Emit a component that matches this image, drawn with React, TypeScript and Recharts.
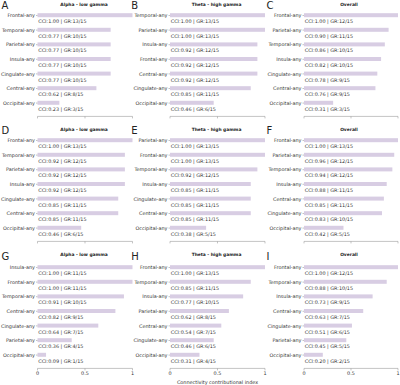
import React from 'react';
import { BarChart, Bar, XAxis, YAxis } from 'recharts';

const FONT = '"DejaVu Sans", sans-serif';
const BAR_FILL = '#d8cde3';
const INK = '#333333';
const AXIS = '#9a9a9a';
const GR_TOTAL = 15;

// A — Alpha - low gamma
const aRegions = ['Frontal-any', 'Temporal-any', 'Parietal-any', 'Insula-any', 'Cingulate-any', 'Central-any', 'Occipital-any'];
const aCci = [1.0, 0.77, 0.77, 0.77, 0.77, 0.62, 0.23];
const aGr = [13, 10, 10, 10, 10, 8, 3];

// B — Theta - high gamma
const bRegions = ['Temporal-any', 'Parietal-any', 'Insula-any', 'Frontal-any', 'Central-any', 'Cingulate-any', 'Occipital-any'];
const bCci = [1.0, 1.0, 0.92, 0.92, 0.92, 0.85, 0.46];
const bGr = [13, 13, 12, 12, 12, 11, 6];

// C — Overall
const cRegions = ['Frontal-any', 'Parietal-any', 'Temporal-any', 'Insula-any', 'Cingulate-any', 'Central-any', 'Occipital-any'];
const cCci = [1.0, 0.9, 0.86, 0.82, 0.78, 0.76, 0.31];
const cGr = [12, 11, 10, 10, 9, 9, 3];

// D — Alpha - low gamma
const dRegions = ['Frontal-any', 'Temporal-any', 'Parietal-any', 'Insula-any', 'Cingulate-any', 'Central-any', 'Occipital-any'];
const dCci = [1.0, 0.92, 0.92, 0.92, 0.85, 0.85, 0.46];
const dGr = [13, 12, 12, 12, 11, 11, 6];

// E — Theta - high gamma
const eRegions = ['Parietal-any', 'Frontal-any', 'Temporal-any', 'Insula-any', 'Cingulate-any', 'Central-any', 'Occipital-any'];
const eCci = [1.0, 1.0, 0.92, 0.85, 0.85, 0.85, 0.38];
const eGr = [13, 13, 12, 11, 11, 11, 5];

// F — Overall
const fRegions = ['Frontal-any', 'Parietal-any', 'Temporal-any', 'Insula-any', 'Central-any', 'Cingulate-any', 'Occipital-any'];
const fCci = [1.0, 0.96, 0.94, 0.88, 0.85, 0.83, 0.42];
const fGr = [13, 12, 12, 11, 11, 10, 5];

// G — Alpha - low gamma
const gRegions = ['Insula-any', 'Frontal-any', 'Temporal-any', 'Central-any', 'Cingulate-any', 'Parietal-any', 'Occipital-any'];
const gCci = [1.0, 1.0, 0.91, 0.82, 0.64, 0.36, 0.09];
const gGr = [11, 11, 10, 9, 7, 4, 1];

// H — Theta - high gamma
const hRegions = ['Frontal-any', 'Temporal-any', 'Insula-any', 'Parietal-any', 'Central-any', 'Cingulate-any', 'Occipital-any'];
const hCci = [1.0, 0.85, 0.77, 0.62, 0.54, 0.46, 0.31];
const hGr = [13, 11, 10, 8, 7, 6, 4];

// I — Overall
const iRegions = ['Frontal-any', 'Temporal-any', 'Insula-any', 'Central-any', 'Cingulate-any', 'Parietal-any', 'Occipital-any'];
const iCci = [1.0, 0.88, 0.73, 0.63, 0.51, 0.45, 0.2];
const iGr = [12, 10, 9, 7, 6, 5, 2];

const xTicks = [0, 0.5, 1];

type Panel = {
  letter: string;
  title: string;
  regions: string[];
  cci: number[];
  gr: number[];
  col: number;
  row: number;
};

const panels: Panel[] = [
  { letter: 'A', title: 'Alpha - low gamma', regions: aRegions, cci: aCci, gr: aGr, col: 0, row: 0 },
  { letter: 'B', title: 'Theta - high gamma', regions: bRegions, cci: bCci, gr: bGr, col: 1, row: 0 },
  { letter: 'C', title: 'Overall', regions: cRegions, cci: cCci, gr: cGr, col: 2, row: 0 },
  { letter: 'D', title: 'Alpha - low gamma', regions: dRegions, cci: dCci, gr: dGr, col: 0, row: 1 },
  { letter: 'E', title: 'Theta - high gamma', regions: eRegions, cci: eCci, gr: eGr, col: 1, row: 1 },
  { letter: 'F', title: 'Overall', regions: fRegions, cci: fCci, gr: fGr, col: 2, row: 1 },
  { letter: 'G', title: 'Alpha - low gamma', regions: gRegions, cci: gCci, gr: gGr, col: 0, row: 2 },
  { letter: 'H', title: 'Theta - high gamma', regions: hRegions, cci: hCci, gr: hGr, col: 1, row: 2 },
  { letter: 'I', title: 'Overall', regions: iRegions, cci: iCci, gr: iGr, col: 2, row: 2 },
];

// grid geometry: each panel svg, its y-axis band width and right margin
const colLeft = [0, 130, 265];
const colWidth = [135, 138, 135];
const colYAxis = [37.5, 40, 39];
const colRight = [2.5, 3, 2];
const rowTop = [0, 125, 251.5];
const titleOffset = [0, 124.8, 250.2];
const plotCenterX = [84, 216.5, 349];
const letterX = [1.5, 131.2, 266.5];

const MARGIN_TOP = 8.2;
const BAND_AREA = 102.2;
const AXIS_GAP = 6;

const BarWithNote = (props: any) => {
  const { x, y, width, height, payload } = props;
  if (x == null || y == null) return null;
  return (
    <g>
      <rect x={x} y={y} width={Math.max(0, width)} height={height} fill={BAR_FILL} />
      <text
        x={x + 0.8}
        y={y + height / 2 + 8}
        fontSize={4.9}
        fontFamily={FONT}
        fill={INK}
      >
        {payload.note}
      </text>
    </g>
  );
};

const PanelChart = ({ p }: { p: Panel }) => {
  const data = p.regions.map((region, i) => ({
    region,
    cci: p.cci[i],
    note: `CCI:${p.cci[i].toFixed(2)} | GR:${p.gr[i]}/${GR_TOTAL}`,
  }));
  const bottomRow = p.row === 2;
  const xAxisHeight = bottomRow ? 16 : 6;
  const height = MARGIN_TOP + BAND_AREA + AXIS_GAP + xAxisHeight;
  return (
    <div style={{ position: 'absolute', left: colLeft[p.col], top: rowTop[p.row] }}>
      <BarChart
        width={colWidth[p.col]}
        height={height}
        data={data}
        layout="vertical"
        margin={{ top: MARGIN_TOP, right: colRight[p.col], bottom: 0, left: 0 }}
      >
        <XAxis
          type="number"
          dataKey="cci"
          domain={[0, 1]}
          ticks={xTicks}
          height={xAxisHeight}
          axisLine={{ stroke: AXIS, strokeWidth: 0.6 }}
          tickLine={{ stroke: AXIS, strokeWidth: 0.6 }}
          tickSize={2}
          tickMargin={1.2}
          tick={{ fontSize: 4.9, fill: INK, fontFamily: FONT }}
          tickFormatter={(v: number) => (bottomRow ? String(v) : '')}
          interval={0}
        />
        <YAxis
          type="category"
          dataKey="region"
          width={colYAxis[p.col]}
          padding={{ top: 0, bottom: AXIS_GAP }}
          axisLine={false}
          tickLine={{ stroke: AXIS, strokeWidth: 0.6 }}
          tickSize={1.5}
          tickMargin={1}
          tick={{ fontSize: 4.9, fill: INK, fontFamily: FONT }}
          interval={0}
        />
        <Bar dataKey="cci" barSize={4} shape={BarWithNote} isAnimationActive={false} />
      </BarChart>
    </div>
  );
};

export default function App() {
  return (
    <div
      style={{
        position: 'absolute',
        left: 0,
        top: 0,
        width: 400,
        height: 385,
        background: '#ffffff',
        overflow: 'hidden',
      }}
    >
      {panels.map((p) => (
        <PanelChart key={p.letter} p={p} />
      ))}
      <svg
        width={400}
        height={385}
        style={{ position: 'absolute', left: 0, top: 0, pointerEvents: 'none' }}
      >
        {panels.map((p) => (
          <g key={p.letter}>
            <text
              x={letterX[p.col]}
              y={titleOffset[p.row] + 9.3}
              fontSize={10}
              fontFamily={FONT}
              fill="#222222"
            >
              {p.letter}
            </text>
            <text
              x={plotCenterX[p.col]}
              y={titleOffset[p.row] + 5.7}
              fontSize={4.4}
              fontWeight="bold"
              fontFamily={FONT}
              fill="#222222"
              textAnchor="middle"
            >
              {p.title}
            </text>
          </g>
        ))}
        <text
          x={217.5}
          y={383.6}
          fontSize={4.9}
          fontFamily={FONT}
          fill={INK}
          textAnchor="middle"
        >
          Connectivity contributional index
        </text>
      </svg>
    </div>
  );
}
